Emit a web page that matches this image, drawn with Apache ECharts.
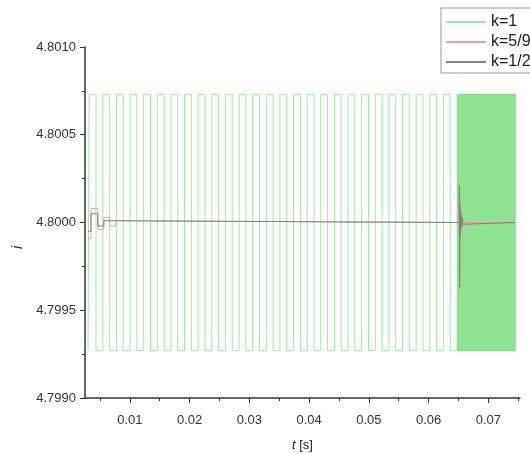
<!DOCTYPE html>
<html>
<head>
<meta charset="utf-8">
<script src="https://cdn.jsdelivr.net/npm/echarts@6/dist/echarts.min.js"></script>
<style>
  html, body { margin: 0; padding: 0; background: #fff; }
  #chart { width: 530px; height: 454px; }
</style>
</head>
<body>
<div id="chart"></div>
<script>
// k=1: switching instants of the slow square wave (s) and its two levels
const greenSwitch = [
  0.00320, 0.00434, 0.00548, 0.00662, 0.00776, 0.00890, 0.01004, 0.01118, 0.01232, 0.01346,
  0.01460, 0.01574, 0.01688, 0.01802, 0.01916, 0.02030, 0.02144, 0.02258, 0.02372, 0.02486,
  0.02600, 0.02714, 0.02828, 0.02942, 0.03056, 0.03170, 0.03284, 0.03398, 0.03512, 0.03626,
  0.03740, 0.03854, 0.03968, 0.04082, 0.04196, 0.04310, 0.04424, 0.04538, 0.04652, 0.04766,
  0.04880, 0.04994, 0.05108, 0.05222, 0.05336, 0.05450, 0.05564, 0.05678, 0.05792, 0.05906,
  0.06020, 0.06134, 0.06248, 0.06362
]
const greenStart = 0.0030
const greenHigh = 4.80073
const greenLow = 4.79927
// fast switching band of k=1 at the end (start, end time)
const greenBand = [0.0648, 0.0745]

// k=5/9: [time, value from that time on]
const redSteps = [
  [0.0030, 4.79991], [0.0035, 4.80008], [0.00465, 4.79996], [0.00565, 4.80003],
  [0.00665, 4.79998], [0.00765, 4.80001], [0.00865, 4.80000],
  [0.06515, 4.80023], [0.06520, 4.79961], [0.06525, 4.80014], [0.06530, 4.79990],
  [0.06540, 4.80008], [0.06550, 4.79995], [0.06560, 4.80005], [0.06570, 4.79997],
  [0.06580, 4.80002], [0.06600, 4.80000], [0.07450, 4.80000]
]
// k=1/2
const graySteps = [
  [0.0030, 4.79995], [0.0035, 4.80005], [0.00465, 4.79998], [0.00565, 4.80001],
  [0.00665, 4.80000],
  [0.06515, 4.80021], [0.06520, 4.79963], [0.06525, 4.80010], [0.06530, 4.79993],
  [0.06540, 4.80005], [0.06550, 4.79997], [0.06560, 4.80003], [0.06570, 4.79999],
  [0.06590, 4.80000], [0.07450, 4.80000]
]

const xMajor = [0.01, 0.02, 0.03, 0.04, 0.05, 0.06, 0.07]
const xMinor = [0.005, 0.015, 0.025, 0.035, 0.045, 0.055, 0.065, 0.075]

function greenData() {
  const ret = [[greenStart, greenLow]]
  let high = false
  for (let i = 0; i < greenSwitch.length; i++) {
    high = !high
    ret.push([greenSwitch[i], high ? greenHigh : greenLow])
  }
  ret.push([greenBand[0], high ? greenHigh : greenLow])
  return ret
}

const font = 'Liberation Sans, Arial, sans-serif'
const chart = echarts.init(document.getElementById('chart'))
chart.setOption({
  animation: false,
  textStyle: { fontFamily: font },
  grid: { left: 85, right: 10, top: 47, bottom: 56, outerBoundsMode: 'none' },
  legend: {
    left: 441,
    top: 8,
    orient: 'vertical',
    itemWidth: 40,
    itemHeight: 14,
    itemGap: 4,
    padding: [6, 8, 3, 4],
    borderColor: '#999',
    borderWidth: 1,
    itemStyle: { opacity: 0 },
    textStyle: { fontSize: 16, color: '#222', fontFamily: font },
    data: ['k=1', 'k=5/9', 'k=1/2']
  },
  xAxis: [{
    type: 'value',
    min: 0.0025,
    max: 0.0753,
    name: '{i|t} [s]',
    nameLocation: 'middle',
    nameGap: 41,
    nameTextStyle: {
      fontSize: 13, color: '#222',
      rich: { i: { fontStyle: 'italic', fontSize: 13, color: '#222' } }
    },
    splitLine: { show: false },
    axisLine: { onZero: false, lineStyle: { color: '#333', width: 1.5 } },
    axisTick: { customValues: xMajor, length: 5, lineStyle: { color: '#333' } },
    axisLabel: { customValues: xMajor, margin: 16, fontSize: 13, color: '#333', formatter: v => v.toFixed(2) }
  }, {
    type: 'value',
    position: 'bottom',
    min: 0.0025,
    max: 0.0753,
    splitLine: { show: false },
    axisLine: { show: false },
    axisTick: { customValues: xMinor, length: 3, lineStyle: { color: '#333' } },
    axisLabel: { show: false }
  }],
  yAxis: {
    type: 'value',
    min: 4.799,
    max: 4.801,
    interval: 0.0005,
    name: 'i',
    nameLocation: 'middle',
    nameGap: 48,
    nameTextStyle: { fontSize: 14, fontStyle: 'italic', color: '#222', padding: [0, 50, 0, 0] },
    splitLine: { show: false },
    axisLine: { show: true, lineStyle: { color: '#333', width: 1.5 } },
    axisTick: { show: true, length: 5, lineStyle: { color: '#333' } },
    minorTick: { show: true, splitNumber: 2, length: 3, lineStyle: { color: '#333' } },
    axisLabel: { margin: 9, fontSize: 13, color: '#333', formatter: v => v.toFixed(4) }
  },
  series: [{
    name: 'k=1',
    type: 'line',
    step: 'end',
    symbol: 'none',
    color: '#a6e4a6',
    lineStyle: { width: 1, color: '#a6e4a6' },
    data: greenData(),
    markArea: {
      silent: true,
      itemStyle: { color: '#8fe28f', borderColor: '#7fd87f', borderWidth: 1 },
      data: [[
        { xAxis: greenBand[0], yAxis: greenLow },
        { xAxis: greenBand[1], yAxis: greenHigh }
      ]]
    }
  }, {
    name: 'k=5/9',
    type: 'line',
    step: 'end',
    symbol: 'none',
    color: '#e3a3a3',
    lineStyle: { width: 1, color: '#e3a3a3' },
    data: redSteps
  }, {
    name: 'k=1/2',
    type: 'line',
    step: 'end',
    symbol: 'none',
    color: '#808080',
    lineStyle: { width: 1, color: '#808080' },
    data: graySteps
  }]
})
</script>
</body>
</html>
